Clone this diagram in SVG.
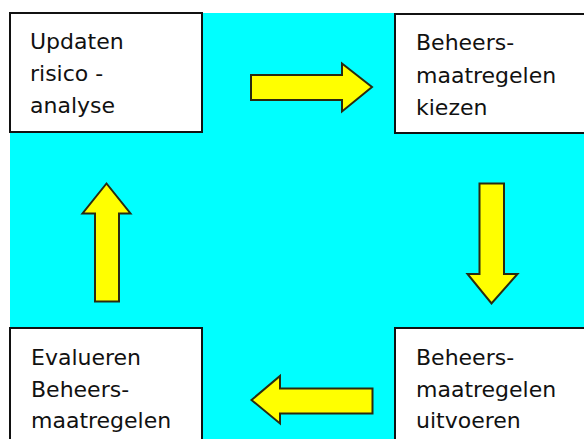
<svg xmlns="http://www.w3.org/2000/svg" width="584" height="439" viewBox="0 0 584 439">
<style>
.box{fill:#fff;stroke:#111;stroke-width:2}
.arr{fill:#ffff00;stroke:#2a2a10;stroke-width:2;stroke-linejoin:miter}
.t{font-family:"DejaVu Sans","Liberation Sans",sans-serif;font-size:22px;fill:#111}
</style>
<rect x="0" y="0" width="584" height="439" fill="#fff"/>
<rect x="10" y="13" width="574" height="426" fill="#00ffff"/>
<g id="connectors">
<polygon class="arr" points="251,75 342,75 342,63.5 372,87 342,111.5 342,100 251,100"/>
<polygon class="arr" points="479.5,183.5 504,183.5 504,274 517.5,274 491.5,303.5 467.5,274 479.5,274"/>
<polygon class="arr" points="372.5,388.5 280,388.5 280,376 251.5,400 280,423.5 280,413.5 372.5,413.5"/>
<polygon class="arr" points="95,301.5 119,301.5 119,213.5 130.5,213.5 106.5,183.5 82.5,213.5 95,213.5"/>
</g>
<g id="node1">
<rect class="box" x="10" y="13" width="192" height="119"/>
<text class="t" x="30" y="49">Updaten</text>
<text class="t" x="30" y="81">risico -</text>
<text class="t" x="30" y="113">analyse</text>
</g>
<g id="node2">
<rect class="box" x="395" y="14" width="200" height="119"/>
<text class="t" x="416" y="50">Beheers-</text>
<text class="t" x="416" y="83">maatregelen</text>
<text class="t" x="416" y="115">kiezen</text>
</g>
<g id="node3">
<rect class="box" x="10" y="328" width="192" height="120"/>
<text class="t" x="31" y="365">Evalueren</text>
<text class="t" x="31" y="397">Beheers-</text>
<text class="t" x="31" y="428">maatregelen</text>
</g>
<g id="node4">
<rect class="box" x="395" y="328" width="200" height="120"/>
<text class="t" x="416" y="365">Beheers-</text>
<text class="t" x="416" y="397">maatregelen</text>
<text class="t" x="416" y="428">uitvoeren</text>
</g>
</svg>
